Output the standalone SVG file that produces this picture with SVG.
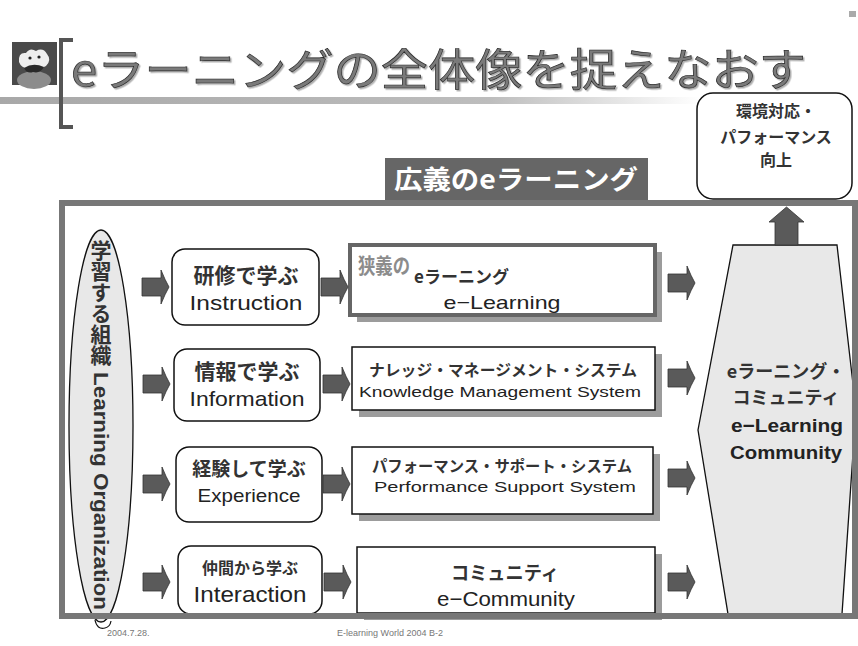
<svg xmlns="http://www.w3.org/2000/svg" width="858" height="646" viewBox="0 0 858 646">
<style>
.jp{font-family:"Noto Sans CJK JP","Liberation Sans",sans-serif;font-weight:700;fill:#333}
.lat{font-family:"Liberation Sans","Noto Sans CJK JP",sans-serif;fill:#222}
.mid{text-anchor:middle}
.rbox{fill:#fff;stroke:#111;stroke-width:1.5}
.sbox{fill:#fff;stroke:#111;stroke-width:1.5}
.shadow{fill:#9c9c9c}
.arrow{fill:#5a5a5a;stroke:#333;stroke-width:0.8}
.pale{fill:#e8e8e8;stroke:#111;stroke-width:1.3}
</style>
<defs>
  <!-- block arrow pointing right, origin at tail centre -->
  <path id="rarrow" d="M0,-9 H19 V-17 Q23,-7 27,0 Q23,7 19,17 V9 H0 Z"/>
  <linearGradient id="band" x1="0" x2="1">
    <stop offset="0" stop-color="#a8a8a8"/>
    <stop offset="0.7" stop-color="#bdbdbd"/>
    <stop offset="1" stop-color="#ffffff"/>
  </linearGradient>
  <filter id="soft" x="-5%" y="-20%" width="110%" height="140%">
    <feDropShadow dx="1.5" dy="1.5" stdDeviation="0.6" flood-color="#999" flood-opacity="0.8"/>
  </filter>
</defs>

<rect width="858" height="646" fill="#fff"/>

<!-- header -->
<g id="header">
  <rect x="0" y="97" width="700" height="7" fill="url(#band)"/>
  <rect x="849" y="11" width="7" height="6" fill="#aaa"/>
  <g id="icon">
    <rect x="12" y="42" width="45" height="43" fill="#4a4a4a"/>
    <ellipse cx="34" cy="80" rx="17" ry="9" fill="#8c8c8c"/>
    <path d="M19,62 Q18,52 26,53 Q30,47 36,51 Q43,47 47,54 Q52,60 46,66 Q40,70 32,68 Q22,70 19,62 Z" fill="#eee"/>
    <circle cx="30" cy="58" r="1.6" fill="#222"/>
    <circle cx="39" cy="57" r="1.6" fill="#222"/>
    <path d="M24,68 Q33,62 44,67 Q40,74 33,72 Q27,74 24,68 Z" fill="#2a2a2a"/>
  </g>
  <path d="M73,40 H61 V127 H73" fill="none" stroke="#555" stroke-width="4"/>
  <text x="71" y="86" font-size="44" textLength="735" lengthAdjust="spacingAndGlyphs" font-family="Noto Sans CJK JP, Liberation Sans, sans-serif" fill="#7a7a7a" stroke="#2a2a2a" stroke-width="0.7" filter="url(#soft)">eラーニングの全体像を捉えなおす</text>
</g>

<!-- outcome box -->
<g id="outcome">
  <rect x="697" y="93" width="155" height="106" rx="16" class="rbox"/>
  <text x="776" y="117" font-size="16" class="jp mid">環境対応・</text>
  <text x="776" y="143" font-size="16" class="jp mid">パフォーマンス</text>
  <text x="776" y="166" font-size="16" class="jp mid">向上</text>
</g>

<!-- broad e-learning label -->
<g id="broad-label">
  <rect x="385" y="158" width="263" height="42" fill="#666"/>
  <text x="516" y="189" font-size="26" textLength="244" lengthAdjust="spacingAndGlyphs" class="jp mid" style="fill:#fff">広義のeラーニング</text>
</g>

<!-- learning organization -->
<g id="learning-org">
  <ellipse cx="101" cy="426" rx="32" ry="196" class="pale"/>
  <path d="M95,620 Q97,630 105,628 Q110,627 111,621" fill="none" stroke="#111" stroke-width="1.2"/>
  <text x="101" y="240" font-size="21" class="jp" style="writing-mode:vertical-rl">学習する組織</text>
  <text transform="translate(101,372) rotate(90)" font-size="21" textLength="238" lengthAdjust="spacingAndGlyphs" dominant-baseline="central" class="lat" style="font-weight:700;fill:#333">Learning Organization</text>
</g>

<!-- ways of learning -->
<g id="instruction">
  <rect x="172" y="249" width="147" height="76" rx="13" class="rbox"/>
  <text x="246" y="283" font-size="21" class="jp mid">研修で学ぶ</text>
  <text x="246" y="310" font-size="21" textLength="113" lengthAdjust="spacingAndGlyphs" class="lat mid">Instruction</text>
</g>
<g id="information">
  <rect x="174" y="349" width="146" height="72" rx="13" class="rbox"/>
  <text x="247" y="379" font-size="21" class="jp mid">情報で学ぶ</text>
  <text x="247" y="406" font-size="21" textLength="115" lengthAdjust="spacingAndGlyphs" class="lat mid">Information</text>
</g>
<g id="experience">
  <rect x="176" y="447" width="146" height="75" rx="13" class="rbox"/>
  <text x="249" y="476" font-size="19" class="jp mid">経験して学ぶ</text>
  <text x="249" y="502" font-size="19" textLength="103" lengthAdjust="spacingAndGlyphs" class="lat mid">Experience</text>
</g>
<g id="interaction">
  <rect x="178" y="546" width="144" height="68" rx="13" class="rbox"/>
  <text x="250" y="574" font-size="16" class="jp mid">仲間から学ぶ</text>
  <text x="250" y="602" font-size="22" textLength="113" lengthAdjust="spacingAndGlyphs" class="lat mid">Interaction</text>
</g>

<!-- systems -->
<g id="narrow-elearning">
  <rect x="357" y="252" width="305" height="70" class="shadow"/>
  <rect x="350" y="245" width="305" height="70" fill="#fff" stroke="#666" stroke-width="4"/>
  <text x="358" y="273" font-size="21" textLength="52" lengthAdjust="spacingAndGlyphs" class="jp" style="fill:#8c8c8c">狭義の</text>
  <text x="414" y="283" font-size="17" class="jp">eラーニング</text>
  <text x="502" y="309" font-size="19" textLength="117" lengthAdjust="spacingAndGlyphs" class="lat mid">e−Learning</text>
</g>
<g id="kms">
  <rect x="359" y="354" width="303" height="63" class="shadow"/>
  <rect x="352" y="347" width="303" height="63" class="sbox"/>
  <text x="503" y="376" font-size="15.5" textLength="268" lengthAdjust="spacingAndGlyphs" class="jp mid">ナレッジ・マネージメント・システム</text>
  <text x="500" y="397" font-size="15" textLength="282" lengthAdjust="spacingAndGlyphs" class="lat mid">Knowledge Management System</text>
</g>
<g id="pss">
  <rect x="359" y="454" width="301" height="67" class="shadow"/>
  <rect x="352" y="447" width="301" height="67" class="sbox"/>
  <text x="502" y="472" font-size="15.5" textLength="260" lengthAdjust="spacingAndGlyphs" class="jp mid">パフォーマンス・サポート・システム</text>
  <text x="505" y="492" font-size="15" textLength="262" lengthAdjust="spacingAndGlyphs" class="lat mid">Performance Support System</text>
</g>
<g id="ecommunity">
  <rect x="364" y="554" width="298" height="66" class="shadow"/>
  <rect x="357" y="547" width="298" height="66" class="sbox"/>
  <text x="505" y="580" font-size="19" textLength="108" lengthAdjust="spacingAndGlyphs" class="jp mid">コミュニティ</text>
  <text x="506" y="606" font-size="21" textLength="138" lengthAdjust="spacingAndGlyphs" class="lat mid">e−Community</text>
</g>

<!-- community outcome -->
<g id="elearning-community">
  <polygon points="733,245 837,245 856,410 842,614 728,614 698,430" class="pale"/>
  <text x="786" y="378" font-size="18" class="jp mid">eラーニング・</text>
  <text x="786" y="404" font-size="18" class="jp mid">コミュニティ</text>
  <text x="787" y="432" font-size="19" textLength="112" lengthAdjust="spacingAndGlyphs" class="lat mid" style="font-weight:700">e−Learning</text>
  <text x="786" y="459" font-size="19" textLength="112" lengthAdjust="spacingAndGlyphs" class="lat mid" style="font-weight:700">Community</text>
</g>

<!-- connectors -->
<g id="connectors" class="arrow">
  <use href="#rarrow" x="142" y="287"/>
  <use href="#rarrow" x="143" y="384"/>
  <use href="#rarrow" x="143" y="484"/>
  <use href="#rarrow" x="143" y="582"/>
  <use href="#rarrow" x="321" y="287"/>
  <use href="#rarrow" x="323" y="384"/>
  <use href="#rarrow" x="323" y="484"/>
  <use href="#rarrow" x="324" y="582"/>
  <use href="#rarrow" x="668" y="283"/>
  <use href="#rarrow" x="668" y="378"/>
  <use href="#rarrow" x="668" y="478"/>
  <use href="#rarrow" x="668" y="582"/>
  <path d="M775,245 V222 H769 L786.5,207 L804,222 H798 V245 Z"/>
</g>

<!-- outer frame -->
<rect id="frame" x="62" y="203" width="793" height="413" fill="none" stroke="#777" stroke-width="6"/>

<!-- footer -->
<g id="footer" font-family="Liberation Sans, sans-serif" font-size="9" fill="#777">
  <text x="107" y="636">2004.7.28.</text>
  <text x="390" y="636" text-anchor="middle">E-learning World 2004 B-2</text>
</g>
</svg>
